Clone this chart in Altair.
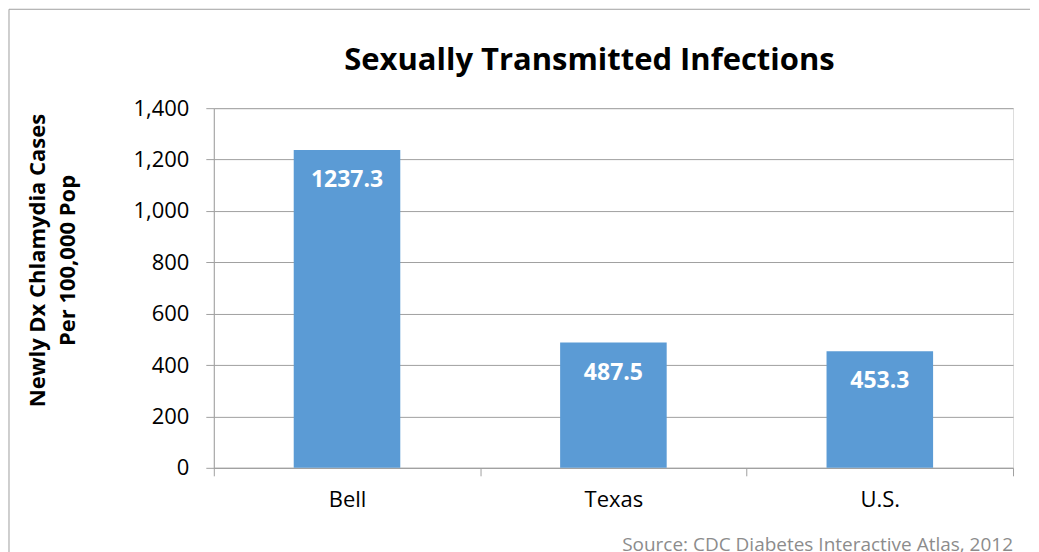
import altair as alt
import pandas as pd

categories = ["Bell", "Texas", "U.S."]
values = [1237.3, 487.5, 453.3]
value_labels = ["1237.3", "487.5", "453.3"]
y_ticks = [0, 200, 400, 600, 800, 1000, 1200, 1400]
title_text = "Sexually Transmitted Infections"
y_title = ["Newly Dx Chlamydia Cases", "Per 100,000 Pop"]
source_text = "Source: CDC Diabetes Interactive Atlas, 2012"

FONT = "Open Sans"
GRAY = "#a0a0a0"
BAR = "#5b9bd5"

df = pd.DataFrame({"region": categories, "value": values, "label": value_labels})
one = pd.DataFrame({"t": [title_text], "s": [source_text]})

x_enc = alt.X(
    "region:N",
    sort=categories,
    title=None,
    scale=alt.Scale(paddingInner=0, paddingOuter=0),
    axis=alt.Axis(
        labelAngle=0, labelFont=FONT, labelFontSize=22, labelColor="black",
        labelPadding=14, tickSize=8, tickColor=GRAY, domainColor=GRAY,
        tickBand="extent", grid=False,
    ),
)
y_enc = alt.Y(
    "value:Q",
    scale=alt.Scale(domain=[0, 1400], nice=False),
    axis=alt.Axis(
        values=y_ticks, format=",.0f", title=y_title, titleFont=FONT,
        titleFontSize=22, titleFontWeight="bold", titleColor="black",
        titlePadding=53, titleLineHeight=30, titleY=152,
        labelFont=FONT, labelFontSize=22, labelColor="black", labelPadding=17,
        tickSize=8, tickColor=GRAY, domainColor=GRAY, gridColor=GRAY,
    ),
)

base = alt.Chart(df)
bars = base.mark_bar(color=BAR, width=alt.RelativeBandSize(0.4)).encode(x=x_enc, y=y_enc)
texts = base.mark_text(
    color="white", font=FONT, fontSize=23, fontWeight="bold", baseline="middle", dy=30
).encode(x=alt.X("region:N", sort=categories), y="value:Q", text="label:N")

deco = alt.Chart(one)
title = deco.mark_text(
    font=FONT, fontSize=31, fontWeight="bold", color="black", align="center", baseline="middle"
).encode(x=alt.value(376), y=alt.value(-47), text="t:N")
source = deco.mark_text(
    font=FONT, fontSize=19, color="#8c8c8c", align="right", baseline="alphabetic"
).encode(x=alt.value(800), y=alt.value(443), text="s:N")
left_border = deco.mark_rule(color=GRAY, strokeWidth=1).encode(
    x=alt.value(-205), y=alt.value(-99), y2=alt.value(445)
)
top_border = deco.mark_rule(color=GRAY, strokeWidth=1).encode(
    x=alt.value(-205), x2=alt.value(817), y=alt.value(-99)
)

chart = (
    alt.layer(bars, texts, title, source, left_border, top_border)
    .properties(width=800, height=360, padding=0)
    .configure_view(stroke=None)
    .configure(background="white")
)

chart.save("out.html", embed_options={"renderer": "svg", "actions": False})
